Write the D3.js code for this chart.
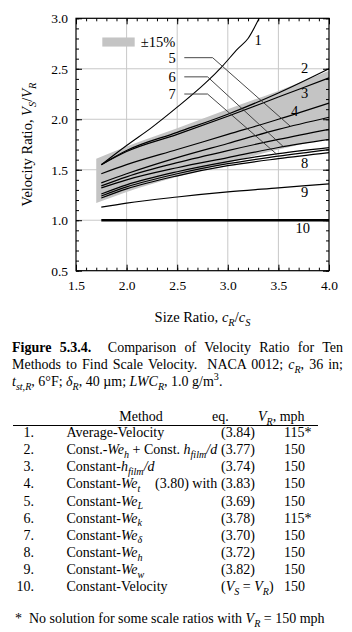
<!DOCTYPE html>
<html>
<head>
<meta charset="utf-8">
<script src="https://cdn.jsdelivr.net/npm/d3@7"></script>
<style>
  body { margin: 0; background: #fff; }
  svg text { font-family: "Liberation Serif", "Times New Roman", serif; fill: #000; white-space: pre; }
</style>
</head>
<body>
<div id="graphic"></div>
<script>
// ---- chart data ----
const sizeRatio = [1.75, 2.0, 2.5, 3.0, 3.5, 4.0];

const curves = [
  { id: '2',  values: [1.55, 1.69, 1.87, 2.05, 2.26, 2.50] },
  { id: '3',  values: [1.55, 1.68, 1.85, 2.03, 2.22, 2.41] },
  { id: '4',  values: [1.46, 1.55, 1.70, 1.85, 2.00, 2.16] },
  { id: '5',  values: [1.37, 1.46, 1.62, 1.76, 1.90, 2.02] },
  { id: '5b', values: [1.34, 1.43, 1.57, 1.69, 1.80, 1.90] },
  { id: '6',  values: [1.32, 1.40, 1.52, 1.62, 1.72, 1.80] },
  { id: '7',  values: [1.26, 1.35, 1.48, 1.58, 1.66, 1.72] },
  { id: '8',  values: [1.24, 1.33, 1.46, 1.56, 1.635, 1.70] },
  { id: '8b', values: [1.22, 1.31, 1.44, 1.54, 1.61, 1.67] },
  { id: '9',  values: [1.13, 1.17, 1.23, 1.28, 1.32, 1.36] },
  { id: '10', values: [1.0, 1.0, 1.0, 1.0, 1.0, 1.0] }
];

// curve 1 runs off the top of the plot
const curve1X = [1.75, 2.0, 2.25, 2.5, 2.78, 2.95, 3.1, 3.2, 3.31, 3.36];
const curve1Y = [1.55, 1.74, 1.92, 2.12, 2.36, 2.53, 2.70, 2.80, 3.0, 3.1];

// +-15% band
const bandX = [1.7, 2.0, 2.5, 3.0, 3.5, 4.0];
const bandHigh = [1.61, 1.73, 1.91, 2.10, 2.28, 2.48];
const bandLow = [1.17, 1.28, 1.43, 1.57, 1.70, 1.81];

const xTicks = [1.5, 2.0, 2.5, 3.0, 3.5, 4.0];
const yTicks = [0.5, 1.0, 1.5, 2.0, 2.5, 3.0];

// curve number labels [text, x, y] in data units
const curveLabels = [
  ['1', 3.30, 2.785], ['2', 3.76, 2.51], ['3', 3.76, 2.26], ['4', 3.66, 2.08],
  ['5', 2.45, 2.61], ['6', 2.45, 2.42], ['7', 2.45, 2.25],
  ['8', 3.76, 1.57], ['9', 3.76, 1.28], ['10', 3.74, 0.92]
];

// leader lines: label y, start x, elbow x, curve id, target x
const leaders = [
  { y: 2.61, x0: 2.57, x1: 2.85, curve: '5', x2: 3.62 },
  { y: 2.42, x0: 2.57, x1: 2.80, curve: '6', x2: 3.55 },
  { y: 2.25, x0: 2.57, x1: 2.80, curve: '7', x2: 3.48 }
];

// table of methods
const methodNumbers = ['1.', '2.', '3.', '4.', '5.', '6.', '7.', '8.', '9.', '10.'];
const methodNames = [
  [['Average-Velocity']],
  [['Const.-'], ['We', 'i'], ['h', 'is'], [' + Const. '], ['h', 'i'], ['film', 'is'], ['/d', 'i']],
  [['Constant-'], ['h', 'i'], ['film', 'is'], ['/d', 'i']],
  [['Constant-'], ['We', 'i'], ['t', 'is']],
  [['Constant-'], ['We', 'i'], ['L', 'is']],
  [['Constant-'], ['We', 'i'], ['k', 'is']],
  [['Constant-'], ['We', 'i'], ['δ', 'is']],
  [['Constant-'], ['We', 'i'], ['h', 'is']],
  [['Constant-'], ['We', 'i'], ['w', 'is']],
  [['Constant-Velocity']]
];
const methodEqs = [
  [['(3.84)']], [['(3.77)']], [['(3.74)']], [['(3.83)']], [['(3.69)']],
  [['(3.78)']], [['(3.70)']], [['(3.72)']], [['(3.82)']],
  [['('], ['V', 'i'], ['S', 'is'], [' = '], ['V', 'i'], ['R', 'is'], [')']]
];
const methodVR = ['115*', '150', '150', '150', '150', '115*', '150', '150', '150', '150'];

const captionLines = [
  [['Figure 5.3.4.', 'b'], ['  Comparison of Velocity Ratio for Ten']],
  [['Methods to Find Scale Velocity.  NACA 0012; '], ['c', 'i'], ['R', 'is'], [', 36 in;']],
  [['t', 'i'], ['st,R', 'is'], [', 6°F; '], ['δ', 'i'], ['R', 'is'], [', 40 µm; '], ['LWC', 'i'], ['R', 'is'], [', 1.0 g/m'], ['3', 'sup'], ['.']]
];

// ---- drawing ----
const serif = '"Liberation Serif", "Times New Roman", serif';
const width = 352, height = 632;
const svg = d3.select('#graphic').append('svg')
  .attr('width', width).attr('height', height);

// write segments of mixed style into a text element
function richText(text, segs, fs) {
  text.attr('xml:space', 'preserve').style('font-size', fs + 'px');
  let shift = 0;
  segs.forEach(function (s) {
    const st = s[1] || '';
    const sub = (st === 'is' || st === 's');
    const sup = (st === 'sup');
    const target = sub ? fs * 0.25 : (sup ? -fs * 0.4 : 0);
    const ts = text.append('tspan').text(s[0])
      .attr('dy', target - shift)
      .style('font-size', (sub || sup) ? (fs * 0.72) + 'px' : fs + 'px');
    if (st.charAt(0) === 'i') ts.style('font-style', 'italic');
    if (st === 'b') ts.style('font-weight', 'bold');
    shift = target;
  });
  return text;
}

const plot = { left: 76, right: 329, top: 18.3, bottom: 270.7 };

const x = d3.scaleLinear().domain([1.5, 4.0]).range([plot.left, plot.right]);
const y = d3.scaleLinear().domain([0.5, 3.0]).range([plot.bottom, plot.top]);

svg.append('defs').append('clipPath').attr('id', 'plotclip')
  .append('rect')
  .attr('x', plot.left).attr('y', plot.top)
  .attr('width', plot.right - plot.left).attr('height', plot.bottom - plot.top);

// grid lines
const grid = svg.append('g').attr('stroke', '#c8c8c8').attr('stroke-width', 1);
grid.selectAll('line.gx').data(xTicks.slice(1, -1)).join('line')
  .attr('x1', d => x(d)).attr('x2', d => x(d))
  .attr('y1', plot.top).attr('y2', plot.bottom);
grid.selectAll('line.gy').data(yTicks.slice(1, -1)).join('line')
  .attr('y1', d => y(d)).attr('y2', d => y(d))
  .attr('x1', plot.left).attr('x2', plot.right);

// band
const area = d3.area()
  .x((d, i) => x(bandX[i]))
  .y0((d, i) => y(bandLow[i]))
  .y1((d, i) => y(bandHigh[i]))
  .curve(d3.curveMonotoneX);
svg.append('path').datum(bandX).attr('d', area).attr('fill', '#c4c4c4');

// curves
const line = d3.line()
  .x((d, i) => x(sizeRatio[i]))
  .y(d => y(d))
  .curve(d3.curveMonotoneX);

svg.append('g').selectAll('path').data(curves).join('path')
  .attr('d', d => line(d.values))
  .attr('fill', 'none')
  .attr('stroke', '#000')
  .attr('stroke-width', d => d.id === '10' ? 2.6 : 1.2);

const line1 = d3.line()
  .x((d, i) => x(curve1X[i]))
  .y(d => y(d))
  .curve(d3.curveMonotoneX);
svg.append('path').attr('d', line1(curve1Y))
  .attr('clip-path', 'url(#plotclip)')
  .attr('fill', 'none').attr('stroke', '#000').attr('stroke-width', 1.1);

// leader lines
function curveAt(id, xv) {
  const vals = curves.find(c => c.id === id).values;
  const i = d3.bisectRight(sizeRatio, xv) - 1;
  const t = (xv - sizeRatio[i]) / (sizeRatio[i + 1] - sizeRatio[i]);
  return vals[i] + t * (vals[i + 1] - vals[i]);
}
svg.append('g').selectAll('path').data(leaders).join('path')
  .attr('d', d => 'M' + x(d.x0) + ',' + y(d.y) + 'L' + x(d.x1) + ',' + y(d.y) +
    'L' + x(d.x2) + ',' + y(curveAt(d.curve, d.x2)))
  .attr('fill', 'none').attr('stroke', '#333').attr('stroke-width', 0.9);

// curve labels
svg.append('g').selectAll('text').data(curveLabels).join('text')
  .attr('x', d => x(d[1])).attr('y', d => y(d[2]))
  .attr('dy', '0.35em')
  .attr('text-anchor', 'middle')
  .style('font-size', '14.5px')
  .text(d => d[0]);

// legend
svg.append('rect')
  .attr('x', x(1.76)).attr('y', y(2.81))
  .attr('width', x(2.08) - x(1.76)).attr('height', y(2.72) - y(2.81))
  .attr('fill', '#c4c4c4');
svg.append('text')
  .attr('x', x(2.14)).attr('y', y(2.765)).attr('dy', '0.35em')
  .style('font-size', '14.5px')
  .text('±15%');

// axes (ticks inward on all sides)
function styleAxis(g) {
  g.attr('font-family', serif).attr('font-size', 13.5);
  g.select('.domain').remove();
  g.selectAll('line').attr('stroke', '#000');
  g.selectAll('text').style('font-size', '13.5px')
    .style('font-family', serif).attr('fill', '#000');
}
const xMinor = d3.range(15, 41).map(d => d / 10);
const yMinor = d3.range(5, 31).map(d => d / 10);

svg.append('g').attr('transform', 'translate(0,' + plot.bottom + ')')
  .call(d3.axisBottom(x).tickValues(xMinor).tickSize(-3).tickFormat(''))
  .call(styleAxis);
svg.append('g').attr('transform', 'translate(0,' + plot.bottom + ')')
  .call(d3.axisBottom(x).tickValues(xTicks).tickSize(-6).tickPadding(10).tickFormat(d3.format('.1f')))
  .call(styleAxis);
svg.append('g').attr('transform', 'translate(0,' + plot.top + ')')
  .call(d3.axisTop(x).tickValues(xMinor).tickSize(-3).tickFormat(''))
  .call(styleAxis);
svg.append('g').attr('transform', 'translate(0,' + plot.top + ')')
  .call(d3.axisTop(x).tickValues(xTicks).tickSize(-6).tickFormat(''))
  .call(styleAxis);
svg.append('g').attr('transform', 'translate(' + plot.left + ',0)')
  .call(d3.axisLeft(y).tickValues(yMinor).tickSize(-3).tickFormat(''))
  .call(styleAxis);
svg.append('g').attr('transform', 'translate(' + plot.left + ',0)')
  .call(d3.axisLeft(y).tickValues(yTicks).tickSize(-6).tickPadding(8).tickFormat(d3.format('.1f')))
  .call(styleAxis);
svg.append('g').attr('transform', 'translate(' + plot.right + ',0)')
  .call(d3.axisRight(y).tickValues(yMinor).tickSize(-3).tickFormat(''))
  .call(styleAxis);
svg.append('g').attr('transform', 'translate(' + plot.right + ',0)')
  .call(d3.axisRight(y).tickValues(yTicks).tickSize(-6).tickFormat(''))
  .call(styleAxis);

// frame
svg.append('rect')
  .attr('x', plot.left).attr('y', plot.top)
  .attr('width', plot.right - plot.left).attr('height', plot.bottom - plot.top)
  .attr('fill', 'none').attr('stroke', '#000').attr('stroke-width', 1.2);

// axis titles
richText(svg.append('text')
  .attr('x', (plot.left + plot.right) / 2).attr('y', 322)
  .attr('text-anchor', 'middle'),
  [['Size Ratio, '], ['c', 'i'], ['R', 'is'], ['/'], ['c', 'i'], ['S', 'is']], 14.5);

richText(svg.append('text')
  .attr('transform', 'translate(32,' + ((plot.top + plot.bottom) / 2) + ') rotate(-90)')
  .attr('text-anchor', 'middle'),
  [['Velocity Ratio, '], ['V', 'i'], ['S', 'is'], ['/'], ['V', 'i'], ['R', 'is']], 14.5);

// caption, justified between 12 and 343
const capY = [352, 369, 386];
captionLines.forEach(function (segs, i) {
  const t = richText(svg.append('text').attr('x', 12).attr('y', capY[i]), segs, 14);
  if (i < captionLines.length - 1) {
    const natural = t.node().getComputedTextLength();
    const spaces = segs.map(s => s[0]).join('').split(' ').length - 1;
    t.style('word-spacing', ((343 - 12 - natural) / spaces) + 'px');
  }
});

// table header
const table = svg.append('g');
table.append('text').attr('x', 141).attr('y', 421).attr('text-anchor', 'middle')
  .style('font-size', '14px').text('Method');
table.append('text').attr('x', 212).attr('y', 421)
  .style('font-size', '14px').text('eq.');
richText(table.append('text').attr('x', 258).attr('y', 421),
  [['V', 'i'], ['R', 'is'], [', mph']], 14);
table.append('line')
  .attr('x1', 13).attr('x2', 318).attr('y1', 425.5).attr('y2', 425.5)
  .attr('stroke', '#000').attr('stroke-width', 1);

// table rows
const rowY = d3.range(10).map(i => 437 + i * 17.15);
methodNumbers.forEach(function (n, i) {
  table.append('text').attr('x', 34).attr('y', rowY[i]).attr('text-anchor', 'end')
    .style('font-size', '14px').text(n);
  richText(table.append('text').attr('x', 66.5).attr('y', rowY[i]), methodNames[i], 14);
  richText(table.append('text').attr('x', 221).attr('y', rowY[i]), methodEqs[i], 14);
  table.append('text').attr('x', 284).attr('y', rowY[i])
    .style('font-size', '14px').text(methodVR[i]);
});
table.append('text').attr('x', 155).attr('y', rowY[3])
  .style('font-size', '14px').text('(3.80) with');

// footnote
richText(svg.append('text').attr('x', 15).attr('y', 623),
  [['*  No solution for some scale ratios with '], ['V', 'i'], ['R', 'is'], [' = 150 mph']], 14);
</script>
</body>
</html>
